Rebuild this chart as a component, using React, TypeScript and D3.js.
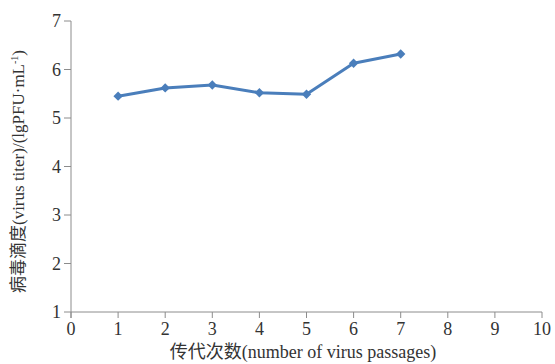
import React from 'react';
import * as d3 from 'd3';

const passages = [1, 2, 3, 4, 5, 6, 7];
const titers = [5.45, 5.62, 5.68, 5.52, 5.49, 6.13, 6.32];
const xTicks = [0, 1, 2, 3, 4, 5, 6, 7, 8, 9, 10];
const yTicks = [1, 2, 3, 4, 5, 6, 7];

const width = 555;
const height = 364;
const margin = { top: 21, right: 13, bottom: 52, left: 71 };
const font = '"Liberation Serif", "Noto Sans CJK SC", serif';

export default function App() {
  const x = d3.scaleLinear().domain([0, 10]).range([margin.left, width - margin.right]);
  const y = d3.scaleLinear().domain([1, 7]).range([height - margin.bottom, margin.top]);
  const line = d3.line<number>()
    .x((d, i) => x(passages[i]))
    .y(d => y(d));
  const diamond = d3.symbol().type(d3.symbolSquare).size(44)();
  const axisColor = '#8c8c8c';

  return (
    <svg width={width} height={height} style={{ position: 'absolute', left: 0, top: 0 }}>
      <rect width={width} height={height} fill="#fff" />
      {/* y axis */}
      <line x1={x(0)} x2={x(0)} y1={y(7)} y2={y(1) + 6} stroke={axisColor} />
      {yTicks.map(t => (
        <g key={'y' + t}>
          <line x1={x(0) - 7} x2={x(0)} y1={y(t)} y2={y(t)} stroke={axisColor} />
          <text x={x(0) - 10} y={y(t)} dy="0.35em" textAnchor="end" fontFamily={font} fontSize={18} fill="#333">{t}</text>
        </g>
      ))}
      {/* x axis */}
      <line x1={x(0)} x2={x(10)} y1={y(1)} y2={y(1)} stroke={axisColor} />
      {xTicks.map(t => (
        <g key={'x' + t}>
          <line x1={x(t)} x2={x(t)} y1={y(1)} y2={y(1) + 6} stroke={axisColor} />
          <text x={x(t)} y={y(1) + 23} textAnchor="middle" fontFamily={font} fontSize={18} fill="#333">{t}</text>
        </g>
      ))}
      <path d={line(titers) || ''} fill="none" stroke="#4a7ebb" strokeWidth={3} strokeLinejoin="round" />
      {titers.map((v, i) => (
        <path key={i} d={diamond || ''} transform={`translate(${x(passages[i])},${y(v)}) rotate(45)`} fill="#4a7ebb" />
      ))}
      <text x={303} y={358} textAnchor="middle" fontFamily={font} fontSize={18} fill="#333">传代次数(number of virus passages)</text>
      <text transform={`translate(24,${(y(1) + y(7)) / 2 + 5}) rotate(-90)`} textAnchor="middle" fontFamily={font} fontSize={17} fill="#333">
        病毒滴度(virus titer)/(lgPFU·mL<tspan dy={-6} fontSize={10}>-1</tspan><tspan dy={6}>)</tspan>
      </text>
    </svg>
  );
}
